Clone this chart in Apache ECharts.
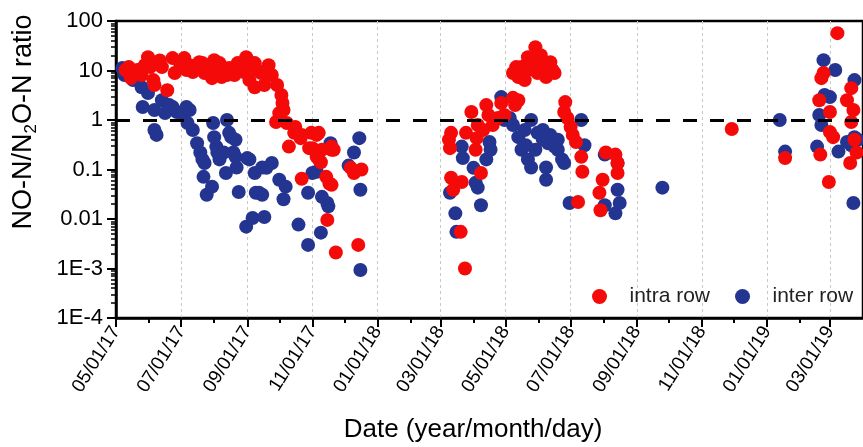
<!DOCTYPE html>
<html><head><meta charset="utf-8">
<script src="https://cdn.jsdelivr.net/npm/echarts@6/dist/echarts.min.js"></script>
<style>html,body{margin:0;padding:0;background:#fff}#c{width:863px;height:447px}</style>
</head><body><div id="c"></div>
<script>
// ---- data ----
const intraDates = [
'2017-05-13','2017-05-15','2017-05-10','2017-05-21','2017-05-25','2017-05-31','2017-06-02','2017-06-05','2017-06-06','2017-06-13',
'2017-06-18','2017-06-23','2017-06-25','2017-06-30','2017-07-04','2017-07-06','2017-07-09','2017-07-14','2017-07-18','2017-07-21',
'2017-07-23','2017-07-26','2017-07-30','2017-08-04','2017-08-08','2017-08-06','2017-08-11','2017-08-15','2017-08-20','2017-08-23',
'2017-08-27','2017-08-31','2017-09-03','2017-09-08','2017-09-08','2017-09-10','2017-09-14','2017-09-17','2017-09-20','2017-09-24',
'2017-09-29','2017-10-03','2017-10-04','2017-10-01','2017-09-28','2017-10-05','2017-10-08','2017-10-10','2017-10-15','2017-10-16',
'2017-10-21','2017-10-22','2017-10-22','2017-10-29','2017-10-31','2017-11-01','2017-11-05','2017-11-07','2017-11-10','2017-11-09',
'2017-11-05','2017-11-07','2017-11-19','2017-11-19','2017-11-14','2017-11-19','2017-11-17','2017-11-15','2017-11-23','2017-11-21',
'2017-12-07','2017-12-10','2017-12-17','2017-12-14','2017-06-11','2017-05-28','2017-07-12','2017-08-01','2017-08-13','2017-08-29',
'2017-09-21','2017-09-03',
'2018-03-11','2018-03-10','2018-03-09','2018-03-11','2018-03-21','2018-03-13','2018-03-20','2018-03-24','2018-03-25','2018-03-30',
'2018-04-03','2018-04-04','2018-04-08','2018-04-10','2018-04-13','2018-04-15','2018-04-19','2018-04-05','2018-04-24','2018-04-27',
'2018-04-30','2018-05-08','2018-05-10','2018-05-11','2018-05-08','2018-05-13','2018-05-16','2018-05-19','2018-05-22','2018-05-22',
'2018-05-25','2018-05-28','2018-05-29','2018-05-31','2018-06-03','2018-06-05','2018-06-07','2018-06-08','2018-06-12','2018-06-14',
'2018-06-16','2018-05-13','2018-06-26','2018-06-25','2018-06-28','2018-07-01','2018-07-03','2018-07-06','2018-07-11','2018-07-12',
'2018-07-08','2018-08-03','2018-08-12','2018-08-14','2018-08-14','2018-07-31','2018-07-28','2018-07-29',
'2018-11-29','2019-01-18','2019-02-19','2019-02-23','2019-02-21','2019-02-20','2019-03-01','2019-03-01','2019-03-04','2019-02-28',
'2019-03-08','2019-03-17','2019-03-21','2019-03-23','2019-03-21','2019-03-20','2019-03-26','2019-03-24'
];
const intraValues = [
11.7,7.0,10.2,10.2,8.1,18.6,11.7,6.4,5.1,11.7,
4.0,17.8,8.9,14.1,17.8,10.2,12.8,11.7,14.7,14.1,
8.9,11.2,7.0,11.7,7.4,14.1,10.2,11.2,8.1,14.1,
11.7,18.6,14.7,14.1,4.6,10.2,8.9,5.1,8.1,8.1,
5.1,3.2,2.2,1.38,0.91,1.59,0.87,0.29,0.55,0.72,
0.43,0.50,0.065,0.27,0.55,0.27,0.50,0.55,0.25,0.14,
0.18,0.16,0.29,0.25,0.071,0.049,0.052,0.0096,0.0021,0.25,
0.108,0.085,0.10,0.003,16,12.8,9.3,16.2,8.1,9.3,
12.8,6.4,
0.55,0.27,0.40,0.068,0.056,0.039,0.0055,0.0010,0.55,1.45,
0.25,0.43,0.085,0.63,2.0,1.26,0.79,0.79,1.1,2.2,
1.26,2.8,2.0,11.7,8.9,7.4,11.7,6.4,18.6,10.2,
14.1,16.2,29.6,8.9,20.4,11.7,14.1,7.4,14.7,10.2,
8.9,2.5,2.3,1.45,1.1,0.72,0.50,0.36,0.18,0.09,
0.022,0.22,0.20,0.135,0.085,0.062,0.034,0.015,
0.66,0.17,2.5,8.9,7.0,0.20,1.45,0.57,0.45,0.056,
56.8,2.5,4.4,1.59,0.91,0.135,0.22,0.40
];
const interDates = [
'2017-05-07','2017-05-09','2017-05-17','2017-05-19','2017-05-25','2017-05-26','2017-05-31','2017-06-06','2017-06-08','2017-06-06',
'2017-06-13','2017-06-16','2017-06-20','2017-06-23','2017-06-27','2017-07-02','2017-07-06','2017-07-09','2017-07-07','2017-07-12',
'2017-07-16','2017-07-19','2017-07-21','2017-07-23','2017-07-22','2017-07-25','2017-07-30','2017-07-31','2017-08-01','2017-08-03',
'2017-08-04','2017-08-06','2017-08-12','2017-08-13','2017-08-15','2017-08-17','2017-08-21','2017-08-19','2017-08-22','2017-08-24',
'2017-08-10','2017-08-21','2017-09-01','2017-09-03','2017-09-08','2017-09-09','2017-09-12','2017-08-31','2017-09-06','2017-09-17',
'2017-09-15','2017-09-19','2017-09-24','2017-10-01','2017-10-07','2017-09-15','2017-10-05','2017-10-19','2017-10-28','2017-11-09',
'2017-10-28','2017-11-05','2017-11-10','2017-11-16','2017-11-18','2017-11-15','2017-11-01','2017-12-15','2017-12-10','2017-12-05',
'2017-12-16','2017-12-16',
'2018-03-10','2018-03-15','2018-03-16','2018-03-21','2018-03-22','2018-04-01','2018-04-05','2018-04-08','2018-04-13','2018-04-17',
'2018-04-16','2018-04-03','2018-04-27','2018-04-30','2018-05-08','2018-05-13','2018-05-16','2018-05-22','2018-05-25','2018-05-25',
'2018-05-31','2018-06-10','2018-06-16','2018-06-08','2018-06-08','2018-06-25','2018-07-11','2018-07-14','2018-06-30','2018-06-23',
'2018-08-02','2018-08-14','2018-08-16','2018-08-12','2018-08-14','2018-08-02','2018-06-05','2018-05-19','2018-06-19','2018-09-25',
'2018-06-05','2018-06-12','2018-05-29','2018-05-20','2018-06-19','2018-05-05',
'2019-01-13','2019-01-18','2019-02-23','2019-03-06','2019-02-24','2019-03-01','2019-02-19','2019-02-21','2019-02-17','2019-03-09',
'2019-03-17','2019-03-24','2019-03-23','2019-03-24','2019-03-21','2019-03-27'
];
const interValues = [
11.2,8.1,6.4,7.0,4.6,1.83,3.5,1.59,0.50,0.63,
2.5,1.38,2.0,1.83,1.45,1.38,1.83,1.59,0.87,0.63,
0.34,0.22,0.16,0.135,0.071,0.031,0.045,0.87,0.45,0.29,
0.22,0.16,0.085,1.0,0.55,0.45,0.40,0.22,0.11,0.035,
0.22,0.18,0.17,0.16,0.085,0.034,0.034,0.0070,0.0105,0.011,
0.11,0.108,0.135,0.062,0.045,0.031,0.025,0.0077,0.0030,0.0053,
0.034,0.09,0.028,0.018,0.34,0.021,0.085,0.43,0.22,0.12,
0.039,0.00093,
0.034,0.013,0.0055,0.29,0.17,0.108,0.043,0.019,0.16,0.25,
0.36,0.054,2.9,1.0,0.79,0.45,0.25,0.16,0.11,1.0,
0.55,0.34,0.29,0.11,0.062,0.135,1.0,0.31,0.021,0.16,
0.019,0.039,0.021,0.013,0.135,0.20,0.40,0.63,0.25,0.043,
0.63,0.50,0.25,0.31,0.40,1.1,
1.0,0.23,16.2,10.2,3.2,2.9,1.26,0.79,0.29,0.23,
0.36,6.4,0.021,0.45,0.31,0.40
];
const xTickDates = ['2017-05-01','2017-07-01','2017-09-01','2017-11-01','2018-01-01','2018-03-01','2018-05-01','2018-07-01','2018-09-01','2018-11-01','2019-01-01','2019-03-01'];
const xMinorDates = ['2017-06-01','2017-08-01','2017-10-01','2017-12-01','2018-02-01','2018-04-01','2018-06-01','2018-08-01','2018-10-01','2018-12-01','2019-02-01'];
const xRange = ['2017-05-01','2019-04-01'];
const yTickLabels = ['1E-4','1E-3','0.01','0.1','1','10','100'];
const seriesNames = ['intra row','inter row'];
const refLevel = 1;

// ---- build ----
const ts = s => new Date(s + 'T00:00:00').getTime();
const pair = (d, v) => d.map((x, i) => [ts(x), v[i]]);
const pad = n => (n < 10 ? '0' : '') + n;
const fmtDate = v => { const d = new Date(v); return pad(d.getMonth() + 1) + '/' + pad(d.getDate()) + '/' + pad(d.getFullYear() % 100); };
const yMinor = [];
for (let e = -4; e < 2; e++) for (let k = 2; k <= 9; k++) yMinor.push(e + Math.log10(k));

const FONT = 'Liberation Sans, Arial, sans-serif';
const chart = echarts.init(document.getElementById('c'));
chart.setOption({
  animation: false,
  backgroundColor: '#fff',
  grid: {left: 116, top: 21, right: -3, bottom: 129, show: true, borderColor: '#000', borderWidth: 2.5, backgroundColor: 'transparent'},
  legend: {
    data: seriesNames, left: 587, top: 281, icon: 'circle', itemWidth: 50, itemHeight: 15, itemGap: 25,
    textStyle: {fontSize: 21, color: '#222', fontFamily: FONT}
  },
  xAxis: [{
    type: 'value', min: ts(xRange[0]), max: ts(xRange[1]),
    axisLine: {onZero: false, lineStyle: {color: '#000', width: 2.5}},
    axisTick: {show: true, length: 9, lineStyle: {color: '#000', width: 2}, customValues: xTickDates.map(ts)},
    axisLabel: {rotate: 58, fontSize: 19, color: '#000', fontFamily: FONT, margin: 10,
      customValues: xTickDates.map(ts), formatter: v => fmtDate(v)},
    splitLine: {show: true, lineStyle: {color: '#c8c8c8', width: 1, type: [3, 3]}}
  }, {
    type: 'value', min: ts(xRange[0]), max: ts(xRange[1]), position: 'bottom',
    axisLine: {show: false, onZero: false}, axisLabel: {show: false}, splitLine: {show: false},
    axisTick: {show: true, length: 5, lineStyle: {color: '#000', width: 2}, customValues: xMinorDates.map(ts)}
  }],
  yAxis: [{
    type: 'log', logBase: 10, min: 1e-4, max: 100, interval: 1,
    axisLine: {show: true, onZero: false, lineStyle: {color: '#000', width: 2.5}},
    axisTick: {show: true, length: 9, lineStyle: {color: '#000', width: 2}},
    axisLabel: {fontSize: 22, color: '#000', fontFamily: FONT, margin: 13,
      formatter: v => yTickLabels[Math.round(Math.log10(v)) + 4]},
    splitLine: {show: false}
  }, {
    type: 'value', min: -4, max: 2, position: 'left',
    axisLine: {show: false, onZero: false}, axisLabel: {show: false}, splitLine: {show: false},
    axisTick: {show: true, length: 5, lineStyle: {color: '#000', width: 1.5}, customValues: yMinor}
  }],
  graphic: [{
    type: 'text', x: 473, y: 430,
    style: {text: 'Date (year/month/day)', fontSize: 26, fontFamily: FONT, fill: '#000', align: 'center', verticalAlign: 'middle'}
  }, {
    type: 'text', x: 24, y: 122, rotation: Math.PI / 2,
    style: {
      text: '{a|NO-N/N}{s|2}{a|O-N ratio}', align: 'center', verticalAlign: 'middle',
      rich: {
        a: {fontSize: 27, fontFamily: FONT, fill: '#000', lineHeight: 31},
        s: {fontSize: 17, fontFamily: FONT, fill: '#000', lineHeight: 17, verticalAlign: 'bottom'}
      }
    }
  }],
  series: [{
    name: seriesNames[0], type: 'scatter', z: 3, symbolSize: 14,
    itemStyle: {color: '#f50a0a', opacity: 1},
    data: pair(intraDates, intraValues)
  }, {
    name: seriesNames[1], type: 'scatter', z: 2, symbolSize: 14,
    itemStyle: {color: '#243591', opacity: 1},
    data: pair(interDates, interValues)
  }, {
    name: 'reference', type: 'scatter', z: 5, data: [],
    markLine: {
      silent: true, symbol: 'none', label: {show: false},
      lineStyle: {color: '#000', width: 3, type: [14, 13]},
      data: [{yAxis: refLevel}]
    }
  }]
});
</script></body></html>
